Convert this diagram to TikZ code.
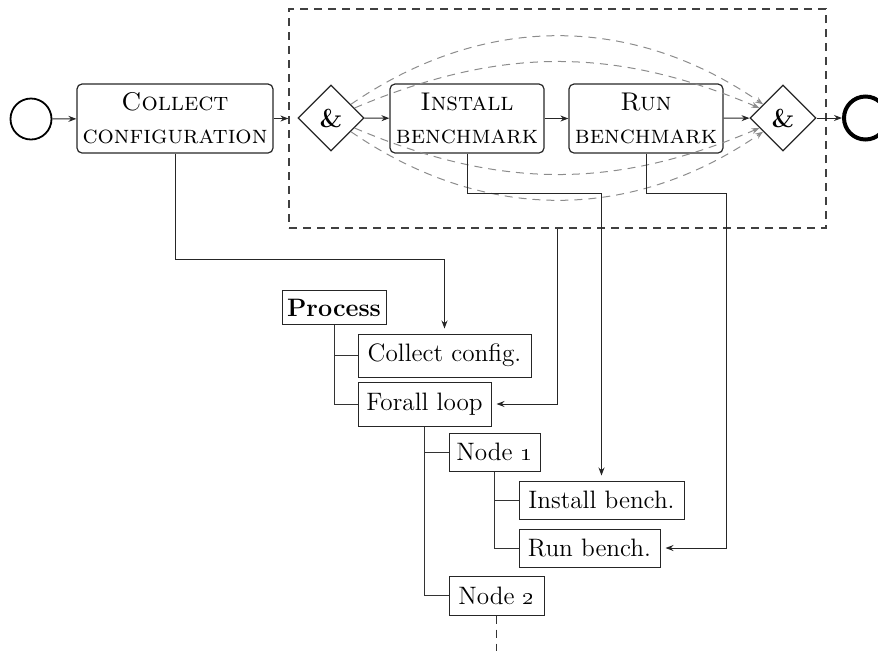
\documentclass[tikz,border=0pt]{standalone}
\usetikzlibrary{shapes.geometric,arrows.meta}
\begin{document}
\begin{tikzpicture}[x=0.5pt,y=-0.5pt,
  txt/.style={font=\fontsize{12.6}{16.5}\selectfont},
  flow/.style={font=\fontsize{12.8}{16.5}\selectfont, draw=black!85, rounded corners=2.5pt, line width=0.6pt, minimum height=34.5pt, align=center, inner sep=0pt},
  gate/.style={diamond, draw=black!85, line width=0.6pt, minimum width=33pt, minimum height=33pt, inner sep=0pt, font=\fontsize{13}{13}\selectfont\bfseries},
  leaf/.style={txt, draw=black!85, line width=0.5pt, inner sep=0pt},
  conn/.style={-{Stealth[length=4pt,width=3pt]}, line width=0.5pt, draw=black!85},
  tconn/.style={conn, shorten >=2.5pt},
  tree/.style={line width=0.5pt, draw=black!80},
  par/.style={line width=0.5pt, draw=black!45, dash pattern=on 4pt off 3pt, -{Stealth[length=4pt,width=3pt]}},
]
\clip (0,0) rectangle (878,650);
% group
\node (grp) [draw=black!75, line width=0.6pt, dash pattern=on 4pt off 3pt, minimum width=268.5pt, minimum height=109.5pt, inner sep=0pt] at (557.5,118.5) {};
% flow
\node (start) [circle, draw=black, line width=0.9pt, minimum size=20.5pt, inner sep=0pt] at (31,119) {};
\node (collect) [flow, minimum width=98pt] at (175,118.5) {\textsc{Collect}\\\textsc{configuration}};
\node (d1) [gate] at (331,118) {\&};
\node (install) [flow, minimum width=77pt] at (467,118.5) {\textsc{Install}\\\textsc{benchmark}};
\node (run) [flow, minimum width=77pt] at (646,118.5) {\textsc{Run}\\\textsc{benchmark}};
\node (d2) [gate] at (783,118) {\&};
\node (end) [circle, draw=black, line width=2pt, minimum size=21.5pt, inner sep=0pt] at (865.5,118) {};

\draw[conn] (start) -- (collect);
\draw[conn] (collect) -- (grp);
\draw[conn] (d1) -- (install);
\draw[conn] (install) -- (run);
\draw[conn] (run) -- (d2);
\draw[conn] (d2) -- (end);

\draw[par] (d1) to[bend left=34.5] (d2);
\draw[par] (d1) to[bend left=23] (d2);
\draw[par] (d1) to[bend right=23] (d2);
\draw[par] (d1) to[bend right=34.5] (d2);

% tree
\node (proc) [leaf, minimum width=52pt, minimum height=17pt] at (334,307.5) {\textbf{Process}};
\node (cc) [leaf, minimum width=86.5pt, minimum height=21.5pt] at (444.5,355.5) {Collect config.};
\node (fl) [leaf, minimum width=66.5pt, minimum height=22pt] at (424.5,404) {Forall loop};
\node (n1) [leaf, minimum width=45.5pt, minimum height=19pt] at (494.5,452) {Node \oldstylenums{1}};
\node (ib) [leaf, minimum width=82.5pt, minimum height=19pt] at (601.5,500) {Install bench.};
\node (rb) [leaf, minimum width=70.5pt, minimum height=19pt] at (589.5,548) {Run bench.};
\node (n2) [leaf, minimum width=47.5pt, minimum height=19.5pt] at (496.5,595.5) {Node \oldstylenums{2}};
\coordinate (n2end) at (496.5,652);

\draw[tree] (proc.south) |- (cc.west);
\draw[tree] (proc.south) |- (fl.west);
\draw[tree] (fl.south) |- (n1.west);
\draw[tree] (fl.south) |- (n2.west);
\draw[tree] (n1.south) |- (ib.west);
\draw[tree] (n1.south) |- (rb.west);
\draw[tree, dash pattern=on 4pt off 3pt] (n2.south) -- (n2end);

% links
\coordinate (rbturn) at (726,193);
\draw[tconn] (collect.south) -- ++(0,106) -| (cc.north);
\draw[tconn] (grp.south) |- (fl.east);
\draw[tconn] (install.south) -- ++(0,40) -| (ib.north);
\draw[tconn] (run.south) |- (rbturn) |- (rb.east);
\end{tikzpicture}
\end{document}
